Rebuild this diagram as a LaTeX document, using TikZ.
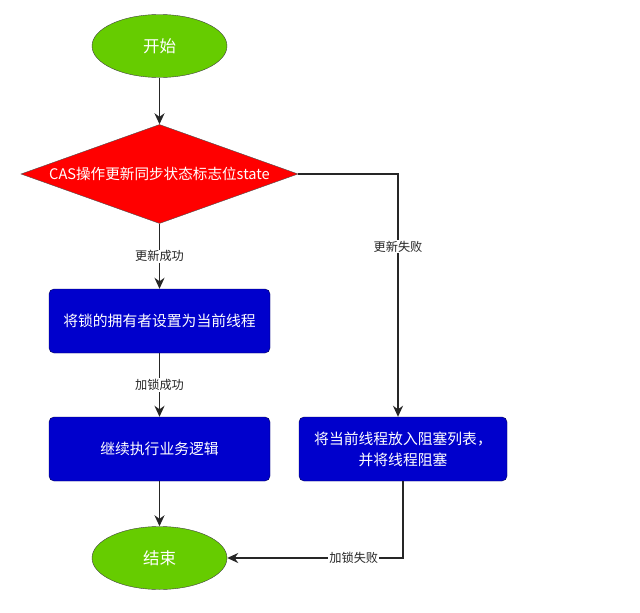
\documentclass[tikz,border=0pt]{standalone}
\usepackage{fontspec}
\setmainfont{Noto Sans CJK SC}
\usetikzlibrary{shapes.geometric, arrows.meta}

\definecolor{termgreen}{HTML}{66CC00}
\definecolor{casred}{HTML}{FF0000}
\definecolor{stepblue}{HTML}{0000CC}

\begin{document}
\begin{tikzpicture}[x=1pt, y=-1pt,
  term/.style={ellipse, draw=black!75, fill=termgreen, text=white, inner sep=0pt,
    minimum width=135pt, minimum height=63pt, font=\fontsize{16.5}{19}\selectfont},
  check/.style={diamond, draw=black!70, fill=casred, text=white, inner sep=0pt,
    shape aspect=2.8, minimum width=277pt, minimum height=99pt,
    font=\fontsize{14.6}{17}\selectfont},
  stepbox/.style={rectangle, rounded corners=5pt, draw=black!60!stepblue, fill=stepblue,
    text=white, align=center, minimum height=64pt, font=\fontsize{14.8}{21}\selectfont},
  arr/.style={-{Stealth[length=11pt, width=10pt, inset=3.5pt]}, line width=1.7pt, black!85},
  lbl/.style={fill=white, inner sep=1pt, text=black!85, font=\fontsize{12.2}{14}\selectfont}]
  \useasboundingbox (0,0) rectangle (640,613);
  % ---- nodes ----
  \node[term] (start) at (159.5,46) {开始};
  \node[check] (cas) at (159.5,174) {CAS操作更新同步状态标志位state};
  \node[stepbox, minimum width=221pt] (own) at (159.5,321) {将锁的拥有者设置为当前线程};
  \node[stepbox, minimum width=221pt] (biz) at (159.5,449) {继续执行业务逻辑};
  \node[stepbox, minimum width=208pt] (blk) at (403,449) {将当前线程放入阻塞列表，\\并将线程阻塞};
  \node[term] (end) at (159.5,558) {结束};
  % ---- connectors ----
  \draw[arr] (start) -- (cas);
  \draw[arr] (cas) -- node[lbl]{更新成功} (own);
  \draw[arr] (own) -- node[lbl]{加锁成功} (biz);
  \draw[arr] (biz) -- (end);
  \draw[arr] (cas.east) -| node[lbl, pos=0.65]{更新失败} ([xshift=-5pt]blk.north);
  \draw[arr] (blk.south) |- node[lbl, pos=0.64]{加锁失败} (end.east);
\end{tikzpicture}
\end{document}
